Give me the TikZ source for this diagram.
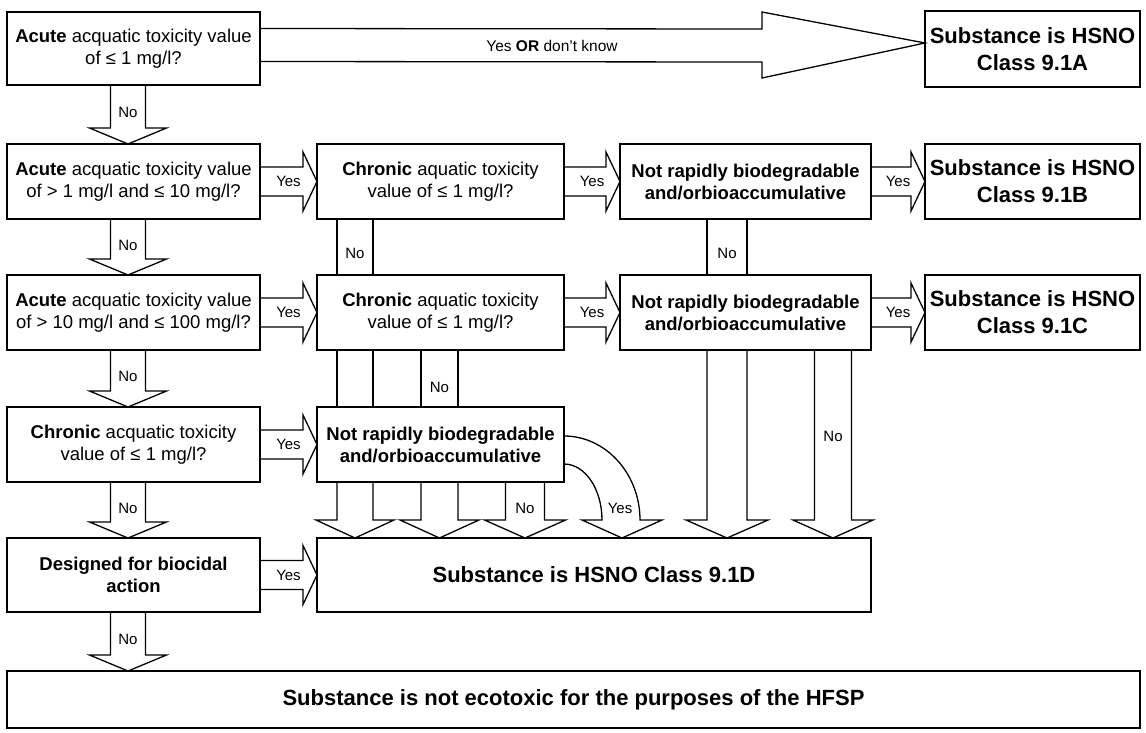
\documentclass[tikz,border=0pt]{standalone}
\usepackage{fontspec}
\setmainfont{Liberation Sans}
\usetikzlibrary{calc}

\tikzset{
  box/.style={draw, line width=1.4pt, inner sep=0pt, outer sep=0pt, align=center,
              font=\fontsize{18.5}{22}\selectfont},
  res/.style={box, font=\bfseries\fontsize{22}{27}\selectfont},
  blk/.style={draw, line width=1.3pt, line join=miter},
  lbl/.style={inner sep=0pt, font=\fontsize{15}{18}\selectfont},
}

% block arrow pointing down: from node, to node, column, shaft half width, head half width, head length
\newcommand\blkdown[6]{%
  \draw[blk] ($(#1.south -| #3)+(-#4,0)$) -- ($(#2.north -| #3)+(-#4,-#6)$)
    -- ($(#2.north -| #3)+(-#5,-#6)$) -- (#2.north -| #3)
    -- ($(#2.north -| #3)+(#5,-#6)$) -- ($(#2.north -| #3)+(#4,-#6)$)
    -- ($(#1.south -| #3)+(#4,0)$);}
% open shaft between two stacked boxes
\newcommand\blkshaft[4]{%
  \draw[blk] ($(#1.south -| #3)+(-#4,0)$) -- ($(#2.north -| #3)+(-#4,0)$)
             ($(#1.south -| #3)+(#4,0)$) -- ($(#2.north -| #3)+(#4,0)$);}
% block arrow pointing right: from node, to node, shaft half width, head half width, head length
\newcommand\blkright[5]{%
  \draw[blk] ($(#1.east)+(0,-#3)$) -- ($(#2.west)+(-#5,-#3)$)
    -- ($(#2.west)+(-#5,-#4)$) -- (#2.west)
    -- ($(#2.west)+(-#5,#4)$) -- ($(#2.west)+(-#5,#3)$)
    -- ($(#1.east)+(0,#3)$);}

\begin{document}
\begin{tikzpicture}[x=1pt,y=-1pt]
\useasboundingbox (0,0) rectangle (1146,732);

% left column: decision boxes
\node[box, minimum width=253, minimum height=73] (A1) at (133.5,48.5)
  {\textbf{Acute} acquatic toxicity value\\of ≤ 1 mg/l?};
\node[box, minimum width=253, minimum height=75] (A2) at (133.5,181.5)
  {\textbf{Acute} acquatic toxicity value\\of > 1 mg/l and ≤ 10 mg/l?};
\node[box, minimum width=253, minimum height=75] (A3) at (133.5,312.5)
  {\textbf{Acute} acquatic toxicity value\\of > 10 mg/l and ≤ 100 mg/l?};
\node[box, minimum width=253, minimum height=75] (A4) at (133.5,444.5)
  {\textbf{Chronic} acquatic toxicity\\value of ≤ 1 mg/l?};
\node[box, minimum width=253, minimum height=74, font=\bfseries\fontsize{18.5}{22}\selectfont] (A5) at (133.5,575)
  {Designed for biocidal\\action};

% second column
\node[box, minimum width=247, minimum height=75] (B2) at (440.5,181.5)
  {\textbf{Chronic} aquatic toxicity\\value of ≤ 1 mg/l?};
\node[box, minimum width=247, minimum height=75] (B3) at (440.5,312.5)
  {\textbf{Chronic} aquatic toxicity\\value of ≤ 1 mg/l?};
\node[box, minimum width=247, minimum height=75, font=\bfseries\fontsize{18.5}{22}\selectfont] (B4) at (440.5,444.5)
  {Not rapidly biodegradable\\and/orbioaccumulative};

% third column
\node[box, minimum width=251, minimum height=75, font=\bfseries\fontsize{18.5}{22}\selectfont] (C2) at (745.5,181.5)
  {Not rapidly biodegradable\\and/orbioaccumulative};
\node[box, minimum width=251, minimum height=75, font=\bfseries\fontsize{18.5}{22}\selectfont] (C3) at (745.5,312.5)
  {Not rapidly biodegradable\\and/orbioaccumulative};

% outcomes
\node[res, minimum width=215, minimum height=76] (R1) at (1032.5,49) {Substance is HSNO\\Class 9.1A};
\node[res, minimum width=215, minimum height=75] (R2) at (1032.5,181.5) {Substance is HSNO\\Class 9.1B};
\node[res, minimum width=215, minimum height=75] (R3) at (1032.5,312.5) {Substance is HSNO\\Class 9.1C};
\node[res, minimum width=554, minimum height=74] (RD) at (594,575) {Substance is HSNO Class 9.1D};
\node[res, minimum width=1133, minimum height=57] (RN) at (573.5,699.5)
  {Substance is not ecotoxic for the purposes of the HFSP};

% column positions of the vertical arrows
\coordinate (xL)  at (128,0);
\coordinate (xM1) at (355,0);
\coordinate (xM2) at (439.5,0);
\coordinate (xM3) at (525,0);
\coordinate (xY)  at (622,0);
\coordinate (xR1) at (727,0);
\coordinate (xR2) at (833,0);

% wide arrow to class 9.1A
\draw[blk] ($(A1.east)+(0,-20)$) -- ($(R1.west)+(-163,-20)$) -- ($(R1.west)+(-163,-37)$)
  -- ($(R1.west)+(0,-6)$) -- ($(R1.west)+(-163,29)$) -- ($(R1.west)+(-163,13)$)
  -- ($(A1.east)+(0,13)$);
\node[lbl, font=\fontsize{15.5}{18}\selectfont] (yA) at (552,45.5) {Yes \textbf{OR} don't know};

% "No" arrows down the left column
\blkdown{A1}{A2}{xL}{17.5}{38.5}{16}
\blkdown{A2}{A3}{xL}{17.5}{38.5}{16}
\blkdown{A3}{A4}{xL}{17.5}{38.5}{16}
\blkdown{A4}{A5}{xL}{17.5}{38.5}{16}
\blkdown{A5}{RN}{xL}{17.5}{38.5}{16}
\node[lbl] (n1) at ($($(A1.south -| xL)!0.5!(A2.north -| xL)$)+(0,-2)$) {No};
\node[lbl] (n2) at ($($(A2.south -| xL)!0.5!(A3.north -| xL)$)+(0,-2)$) {No};
\node[lbl] (n3) at ($($(A3.south -| xL)!0.5!(A4.north -| xL)$)+(0,-2)$) {No};
\node[lbl] (n4) at ($($(A4.south -| xL)!0.5!(A5.north -| xL)$)+(0,-2)$) {No};
\node[lbl] (n5) at ($($(A5.south -| xL)!0.5!(RN.north -| xL)$)+(0,-2)$) {No};

% "Yes" arrows to the right
\blkright{A2}{B2}{14.5}{29.5}{14}
\blkright{A3}{B3}{14.5}{29.5}{14}
\blkright{A4}{B4}{14.5}{29.5}{14}
\blkright{A5}{RD}{14.5}{29.5}{14}
\blkright{B2}{C2}{14.5}{29.5}{14}
\blkright{B3}{C3}{14.5}{29.5}{14}
\blkright{C2}{R2}{14.5}{29.5}{14}
\blkright{C3}{R3}{14.5}{29.5}{14}
\node[lbl] (y1) at ($(A2.east)!0.5!(B2.west)$) {Yes};
\node[lbl] (y2) at ($(A3.east)!0.5!(B3.west)$) {Yes};
\node[lbl] (y3) at ($(A4.east)!0.5!(B4.west)$) {Yes};
\node[lbl] (y4) at ($(A5.east)!0.5!(RD.west)$) {Yes};
\node[lbl] (y5) at ($(B2.east)!0.5!(C2.west)$) {Yes};
\node[lbl] (y6) at ($(B3.east)!0.5!(C3.west)$) {Yes};
\node[lbl] (y7) at ($(C2.east)!0.5!(R2.west)$) {Yes};
\node[lbl] (y8) at ($(C3.east)!0.5!(R3.west)$) {Yes};

% "No" shafts between the stacked boxes
\blkshaft{B2}{B3}{xM1}{18}
\blkshaft{C2}{C3}{xR1}{20}
\blkshaft{B3}{B4}{xM1}{18}
\blkshaft{B3}{B4}{xM2}{18.5}
\node[lbl] (n6) at ($(B2.south -| xM1)!0.62!(B3.north -| xM1)$) {No};
\node[lbl] (n7) at ($(C2.south -| xR1)!0.62!(C3.north -| xR1)$) {No};
\node[lbl] (n8) at ($(B3.south -| xM2)!0.65!(B4.north -| xM2)$) {No};

% arrows into class 9.1D
\blkdown{B4}{RD}{xM1}{18}{39}{18}
\blkdown{B4}{RD}{xM2}{18.5}{39.5}{18}
\blkdown{B4}{RD}{xM3}{19.5}{40.5}{18}
\blkdown{C3}{RD}{xR1}{20}{41}{18}
\blkdown{C3}{RD}{xR2}{18.5}{40}{18}
\node[lbl] (n9) at ($(B4.south -| xM3)!0.47!(RD.north -| xM3)$) {No};
\node[lbl] (n10) at ($(C3.south -| xR2)!0.457!(RD.north -| xR2)$) {No};

% curved "Yes" arrow from the lower biodegradability box
\draw[blk] ($(B4.east)+(0,-8.5)$) .. controls +(42,0) and +(0,-46) .. ($(RD.north -| xY)+(18,-18)$)
  -- ($(RD.north -| xY)+(40,-18)$) -- (RD.north -| xY) -- ($(RD.north -| xY)+(-40,-18)$)
  -- ($(RD.north -| xY)+(-20,-18)$) .. controls +(0,-31) and +(21,0) .. ($(B4.east)+(0,19.5)$);
\node[lbl] (y9) at (620,508) {Yes};

\end{tikzpicture}
\end{document}
